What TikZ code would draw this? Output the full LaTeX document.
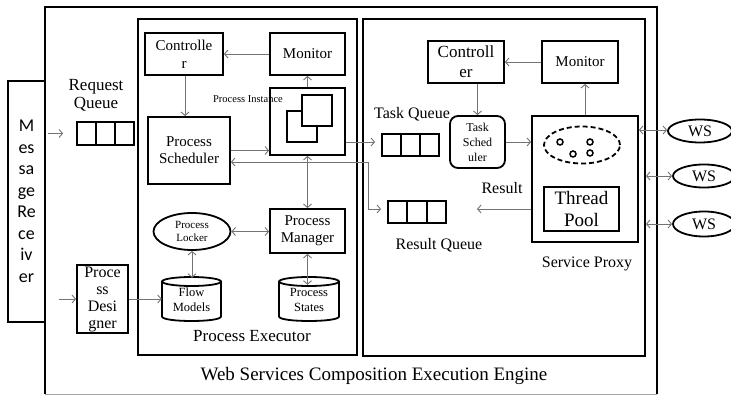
\documentclass[tikz,border=0pt]{standalone}
\usepackage{fontspec}
\setmainfont{Liberation Serif}
\newfontfamily\recvfont{Carlito}
\usetikzlibrary{arrows.meta,shapes.geometric,calc}

\newcommand\fsz[2]{\fontsize{#1}{#2}\selectfont}
% drum (database) outline: left, right, top, bottom
\newcommand\drawdrum[4]{%
  \draw[line width=1.8pt] ({(#1+#2)/2},{#3+4.5}) ellipse [x radius={(#2-#1)/2}, y radius=4.5];
  \draw[line width=1.8pt] (#1,{#3+4.5}) -- (#1,{#4-4.5})
    .. controls (#1,{#4+1.5}) and (#2,{#4+1.5}) .. (#2,{#4-4.5}) -- (#2,{#3+4.5});
}
% three-slot queue dividers
\newcommand\qcells[1]{%
  \foreach \f in {0.3333,0.6667}
    \draw[line width=1.8pt] ($(#1.north west)!\f!(#1.north east)$) -- ($(#1.south west)!\f!(#1.south east)$);
}

\begin{document}
\begin{tikzpicture}[x=1pt,y=-1pt,
  >={Straight Barb[length=3.5pt,width=8pt]},
  blk/.style={draw, line width=1.8pt, inner sep=0pt, align=center},
  conn/.style={draw=black!55, line width=0.9pt},
  lbl/.style={inner sep=0pt, align=center},
]
\useasboundingbox (0,0) rectangle (731,395);

% engine frame
\draw[line width=1.8pt] (45,394) -- (45,7) -- (657,7) -- (657,394);
\draw[black!35, line width=0.8pt] (45,394) -- (657,394);
\node[lbl, font=\fsz{19}{21}] (engl) at (374,376) {Web Services Composition Execution Engine};

% message receiver
\node[blk, fill=white, minimum width=37pt, minimum height=241pt, font=\recvfont\fsz{18}{21.5}] (recv) at (26.5,201.5) {M\\es\\sa\\ge\\Re\\ce\\iv\\er};

% containers
\node[blk, minimum width=219pt, minimum height=336pt] (pexec) at (247.5,187) {};
\node[blk, minimum width=282pt, minimum height=337pt] (sproxy) at (504,187.5) {};
\node[lbl, font=\fsz{17}{20}] (pexecl) at (252,336) {Process Executor};
\node[lbl, font=\fsz{16}{19}] (sproxyl) at (587,264) {Service Proxy};

% request side
\node[lbl, font=\fsz{17}{18}] (reql) at (96,95) {Request\\Queue};
\node[blk, minimum width=57pt, minimum height=23pt] (reqq) at (105.5,133.5) {};
\qcells{reqq}
\node[blk, minimum width=51pt, minimum height=68pt, font=\fsz{16}{17}] (desig) at (102.5,299) {Proce\\ss\\Desi\\gner};

% process executor parts
\node[blk, minimum width=78pt, minimum height=42pt, font=\fsz{15}{18}] (ctlA) at (184,54) {Controlle\\r};
\node[blk, minimum width=75pt, minimum height=42pt, font=\fsz{15}{18}] (monA) at (307.5,54) {Monitor};
\node[blk, minimum width=75pt, minimum height=67pt] (inst) at (307.5,121.5) {};
\draw[line width=1.8pt] (287,111) rectangle (317,142);
\draw[line width=1.8pt, fill=white] (302,95) rectangle (332,126);
\node[lbl, font=\fsz{10.5}{12}] (instl) at (248,99) {Process Instance};
\node[blk, minimum width=82pt, minimum height=67pt, font=\fsz{15}{17}] (sched) at (189,150.5) {Process\\Scheduler};
\node[blk, ellipse, minimum width=77pt, minimum height=37pt, font=\fsz{11}{12.5}] (locker) at (192,231.5) {Process\\Locker};
\node[blk, minimum width=75pt, minimum height=44pt, font=\fsz{15}{17}] (pmgr) at (307.5,231) {Process\\Manager};
\drawdrum{162}{221}{277}{321}
\drawdrum{279}{339}{277}{321}
\node[lbl, minimum width=59pt, minimum height=44pt, font=\fsz{12.5}{15}] (flow) at (191.5,300) {Flow\\Models};
\node[lbl, minimum width=60pt, minimum height=44pt, font=\fsz{12.5}{15}] (pstate) at (309,300) {Process\\States};

% service proxy parts
\node[blk, minimum width=76pt, minimum height=42pt, font=\fsz{17}{20}] (ctlB) at (466,62) {Controll\\er};
\node[blk, minimum width=76pt, minimum height=42pt, font=\fsz{15}{18}] (monB) at (580,62) {Monitor};
\node[lbl, font=\fsz{16}{18}] (tql) at (412,114) {Task Queue};
\node[blk, minimum width=57pt, minimum height=22pt] (tq) at (410.5,145) {};
\qcells{tq}
\node[blk, rounded corners=8pt, minimum width=55pt, minimum height=52pt, font=\fsz{12}{15}] (tsch) at (477.5,142) {Task\\Sched\\uler};
\node[blk, minimum width=106pt, minimum height=126pt] (pool) at (585,179) {};
\node[blk, ellipse, dash pattern=on 5pt off 3pt, minimum width=76pt, minimum height=37pt] (threads) at (582,145) {};
\foreach \p in {(560,142),(590,142),(573,154),(590,153)}
  \draw[line width=1.5pt] \p circle[radius=3pt];
\node[blk, minimum width=75pt, minimum height=44pt, font=\fsz{19}{22}] (tpool) at (581.5,209) {Thread\\Pool};
\node[blk, minimum width=58pt, minimum height=22pt] (resq) at (417,212) {};
\qcells{resq}
\node[lbl, font=\fsz{16}{18}] (resql) at (439,245) {Result Queue};
\node[lbl, font=\fsz{16}{18}] (resl) at (502,188) {Result};

% web services
\node[blk, ellipse, minimum width=64pt, minimum height=23pt, font=\fsz{16}{18}] (wsA) at (700,131) {WS};
\node[blk, ellipse, minimum width=62pt, minimum height=23pt, font=\fsz{16}{18}] (wsB) at (704,176) {WS};
\node[blk, ellipse, minimum width=62pt, minimum height=25pt, font=\fsz{16}{18}] (wsC) at (704,224) {WS};

% connectors: request side
\draw[conn,->] ($(recv.east |- reqq.west)+(2,0)$) -- ([xshift=-13pt]reqq.west);
\draw[conn,->] ($(recv.east |- desig.west)+(13,0)$) -- (desig.west);
\draw[conn,->] (desig.east) -- (desig.east -| flow.west);

% connectors: process executor
\draw[conn,->] (monA) -- (ctlA);
\draw[conn,->] ([xshift=1pt]ctlA.south) -- ([xshift=1pt]ctlA.south |- sched.north);
\draw[conn,->] (inst) -- (monA);
\draw[conn,->] (sched.east) -- (sched.east -| inst.west);
\coordinate (bend) at (368,162);
\draw[conn,<->] ([yshift=-11.5pt]sched.east) -- (bend) |- ([shift={(-6pt,3pt)}]resq.west);
\draw[conn,->] ([yshift=-20.5pt]inst.east) -- ([shift={(-6pt,3pt)}]tq.west);
\draw[conn,<->] (inst.south) -- (pmgr.north);
\draw[conn,<->] (locker.east) -- (locker.east -| pmgr.west);
\draw[conn,<->] (locker.south) -- (locker.south |- flow.north);
\draw[conn,<->] (pmgr.south) -- ([yshift=-7pt]pmgr.south |- pstate.north);

% connectors: service proxy
\draw[conn,->] (monB) -- (ctlB);
\draw[conn,->] (tsch.north |- ctlB.south) -- (tsch.north);
\draw[conn,->] (tsch.east) -- (tsch.east -| pool.west);
\draw[conn,->] (pool.north) -- (pool.north |- monB.south);
\coordinate (resin) at (477,209);
\draw[conn,->] (pool.west |- resin) -- (resin);
\draw[conn,<->] ([yshift=1pt]pool.east |- wsA) -- ([yshift=1pt]wsA.west);
\draw[conn,<->] (sproxy.east |- wsB) -- (wsB.west);
\draw[conn,<->] (sproxy.east |- wsC) -- (wsC.west);
\end{tikzpicture}
\end{document}
